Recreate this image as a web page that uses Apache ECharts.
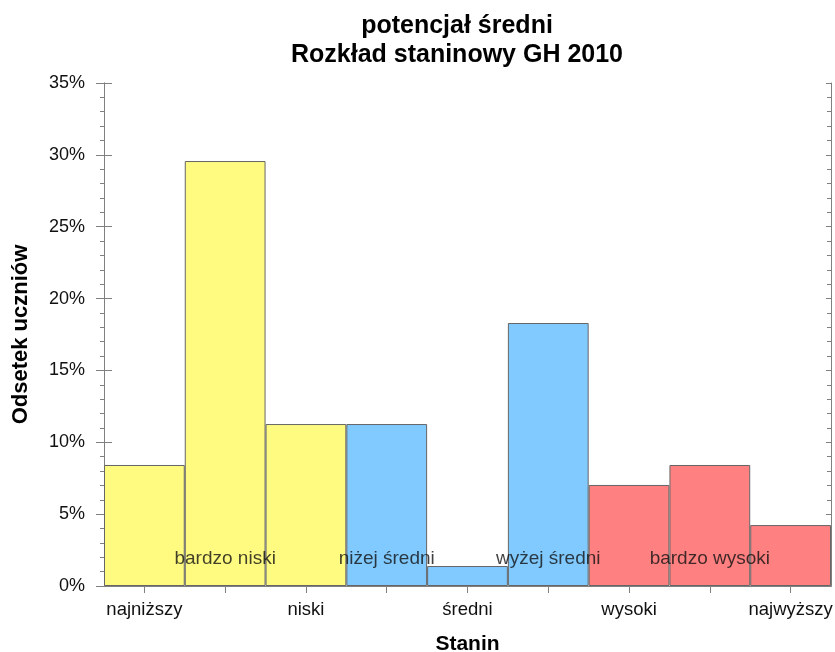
<!DOCTYPE html>
<html>
<head>
<meta charset="utf-8">
<script src="https://cdn.jsdelivr.net/npm/echarts@6/dist/echarts.min.js"></script>
<style>html,body{margin:0;padding:0;background:#fff}#c{width:835px;height:652px}</style>
</head>
<body>
<div id="c"></div>
<script>
// Data
const staniny = ['1','2','3','4','5','6','7','8','9'];
const tickLabels = ['najniższy','','niski','','średni','','wysoki','','najwyższy'];
const values = [8.42, 29.57, 11.27, 11.27, 1.39, 18.3, 7.03, 8.42, 4.24];
const barColors = ['#FFFA80','#FFFA80','#FFFA80','#80CAFF','#80CAFF','#80CAFF','#FF8080','#FF8080','#FF8080'];
const bandLabels = ['','bardzo niski','','niżej średni','','wyżej średni','','bardzo wysoki',''];
const bandLabelY = 1.9;

const FONT = '"Liberation Sans", Arial, sans-serif';
const axisGrey = '#808080';

const chart = echarts.init(document.getElementById('c'));
const yBase = {type:'value', min:0, max:35, interval:5,
  axisLine:{show:true, lineStyle:{color:axisGrey}}, splitLine:{show:false}};
const xBase = {type:'category', data:staniny, boundaryGap:true,
  axisLine:{show:true, lineStyle:{color:axisGrey}}, splitLine:{show:false}};

chart.setOption({
  animation:false,
  title:{text:'potencjał średni\nRozkład staninowy GH 2010', left:452, textAlign:'center', top:7,
    textStyle:{fontFamily:FONT, fontSize:25, fontWeight:'bold', color:'#000', lineHeight:29}},
  grid:{left:104, right:4, top:83, bottom:66, containLabel:false, outerBoundsMode:'none'},
  xAxis:[
    Object.assign({}, xBase, {position:'bottom',
      axisTick:{show:true, alignWithLabel:true, interval:0, length:7, lineStyle:{color:axisGrey}},
      axisLabel:{interval:0, margin:14, fontFamily:FONT, fontSize:18.5, color:'#111',
        formatter:(v,i)=>tickLabels[i]},
      name:'Stanin', nameLocation:'middle', nameGap:48,
      nameTextStyle:{fontFamily:FONT, fontSize:21, fontWeight:'bold', color:'#000'}}),
    Object.assign({}, xBase, {position:'bottom',
      axisTick:{show:true, inside:true, alignWithLabel:true, interval:0, length:8, lineStyle:{color:axisGrey}},
      axisLabel:{show:false}}),
    Object.assign({}, xBase, {position:'top',
      axisTick:{show:true, inside:true, alignWithLabel:true, interval:0, length:6, lineStyle:{color:axisGrey}},
      axisLabel:{show:false}})
  ],
  yAxis:[
    Object.assign({}, yBase, {position:'left',
      axisTick:{show:true, length:8, lineStyle:{color:axisGrey}},
      minorTick:{show:true, splitNumber:5, length:4, lineStyle:{color:axisGrey}},
      axisLabel:{margin:19, fontFamily:FONT, fontSize:18, color:'#111', formatter:v=>v+'%'},
      name:'Odsetek uczniów', nameLocation:'middle', nameGap:72, nameRotate:90,
      nameTextStyle:{fontFamily:FONT, fontSize:22, fontWeight:'bold', color:'#000'}}),
    Object.assign({}, yBase, {position:'left', offset:0,
      axisTick:{show:true, inside:true, length:8, lineStyle:{color:axisGrey}},
      minorTick:{show:false},
      axisLabel:{show:false}}),
    Object.assign({}, yBase, {position:'right', offset:0,
      axisTick:{show:true, inside:true, length:5, lineStyle:{color:axisGrey}},
      minorTick:{show:true, splitNumber:5, length:4, lineStyle:{color:axisGrey}},
      axisLabel:{show:false}})
  ],
  series:[
    {type:'bar', xAxisIndex:0, yAxisIndex:0, barCategoryGap:'0%',
      data: values.map((v,i)=>({value:v, itemStyle:{color:barColors[i], borderColor:'#666', borderWidth:1}}))},
    {type:'scatter', xAxisIndex:0, yAxisIndex:0, symbolSize:1, itemStyle:{color:'rgba(0,0,0,0)'},
      data: bandLabels.map((t,i)=>t?{value:[i,bandLabelY], name:t}:null).filter(Boolean),
      label:{show:true, position:'inside', formatter:p=>p.name, fontFamily:FONT, fontSize:19, color:'#111'},
      z:5}
  ]
});
</script>
</body>
</html>
